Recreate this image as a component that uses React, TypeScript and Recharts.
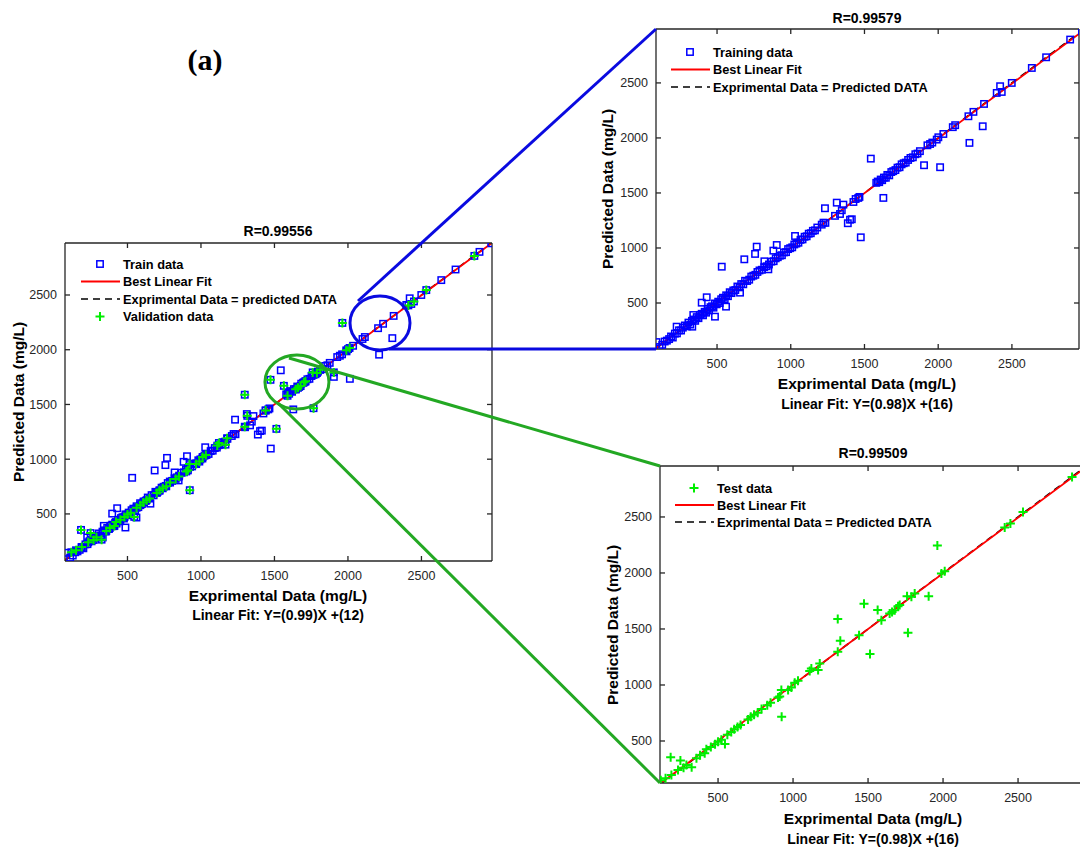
import React from "react";
import { ScatterChart, Scatter, XAxis, YAxis, ReferenceLine, ReferenceDot } from "recharts";

const FONT = "'Liberation Sans', Arial, Helvetica, sans-serif";
const AX = "#262626";
const BLUE = "#0000ff";
const GREEN = "#00ee00";
const LINK_BLUE = "#0a0ae0";
const LINK_GREEN = "#23a823";

// [experimental, predicted] in mg/L
const TRAIN: [number, number][] = [
  [110, 100], [128, 120], [145, 150], [160, 158], [175, 172], [188, 196], [200, 186], [214, 222],
  [228, 224], [242, 252], [256, 250], [268, 276], [282, 296], [296, 288], [306, 322], [318, 304],
  [330, 338], [342, 350], [352, 338], [362, 372], [374, 362], [385, 392], [396, 402], [405, 388],
  [416, 420], [426, 412], [436, 446], [446, 432], [456, 462], [466, 470], [476, 458], [486, 496],
  [498, 488], [508, 512], [518, 500], [528, 534], [540, 548], [552, 534], [562, 570], [574, 562],
  [586, 598], [598, 590], [610, 614], [624, 618], [638, 650], [652, 642], [664, 672], [678, 670],
  [690, 702], [704, 700], [718, 712], [732, 740], [746, 748], [760, 756], [774, 782], [788, 796],
  [804, 802], [820, 826], [836, 834], [852, 850], [868, 876], [884, 880], [898, 906], [912, 916],
  [926, 930], [940, 934], [954, 960], [968, 962], [982, 990], [996, 998], [1010, 1006], [1024, 1032],
  [1038, 1040], [1052, 1048], [1066, 1074], [1080, 1078], [1094, 1102], [1108, 1106], [1122, 1130],
  [1136, 1134], [1150, 1156], [1164, 1160], [1180, 1186], [1210, 1212], [1222, 1230], [1235, 1228],
  [1300, 1292], [1334, 1309], [1346, 1343], [1357, 1394], [1425, 1418], [1440, 1445], [1458, 1455],
  [1466, 1464], [1580, 1592], [1590, 1604], [1600, 1598], [1610, 1622], [1620, 1616], [1632, 1640],
  [1645, 1638], [1655, 1664], [1668, 1660], [1682, 1690], [1695, 1698], [1710, 1708], [1724, 1730],
  [1738, 1734], [1752, 1760], [1766, 1770], [1780, 1776], [1796, 1800], [1812, 1818], [1828, 1824],
  [1845, 1852], [1860, 1858], [1876, 1880], [1927, 1933], [1945, 1945], [1960, 1958], [1990, 1985],
  [2001, 2006], [2035, 2036], [2099, 2098], [2115, 2116], [2205, 2197], [2239, 2237], [2311, 2309],
  [2397, 2409], [2420, 2470], [2431, 2418], [2499, 2500], [2635, 2636], [2732, 2733], [2895, 2894],
  [2975, 2972],
  // off the line
  [89, 145], [226, 285], [332, 285], [339, 391], [396, 503], [430, 552], [486, 376], [561, 467],
  [532, 830], [656, 594], [685, 897], [758, 946], [769, 1012], [821, 879], [848, 806], [882, 976],
  [905, 1027], [1029, 1109], [1232, 1361], [1312, 1412], [1387, 1225], [1402, 1257], [1414, 1261],
  [1475, 1097], [1543, 1812], [1628, 1455], [1904, 1752], [2013, 1734], [2212, 1955], [2302, 2106],
];

const TEST: [number, number][] = [
  [118, 150], [150, 168], [184, 354], [189, 197], [233, 241], [249, 325], [270, 262], [289, 286],
  [324, 265], [356, 345], [380, 372], [411, 390], [422, 426], [452, 446], [480, 472], [500, 494],
  [522, 510], [546, 473], [562, 556], [588, 580], [608, 604], [630, 626], [650, 642], [700, 692],
  [718, 716], [740, 734], [764, 752], [790, 786], [828, 820], [850, 842], [900, 888], [911, 898],
  [922, 955], [924, 717], [967, 955], [989, 978], [1011, 1020], [1033, 1038], [1111, 1124],
  [1122, 1148], [1167, 1133], [1178, 1192], [1298, 1589], [1298, 1297], [1315, 1396], [1440, 1445],
  [1473, 1725], [1513, 1277], [1564, 1670], [1589, 1579], [1644, 1638], [1660, 1652], [1678, 1668],
  [1700, 1702], [1711, 1713], [1760, 1793], [1766, 1466], [1789, 1787], [1811, 1817], [1904, 1793],
  [1962, 2245], [1989, 1995], [2011, 2016], [2411, 2405], [2449, 2441], [2533, 2545], [2860, 2857],
];

const TICKS = [500, 1000, 1500, 2000, 2500];

// fitted lines as drawn (they sit almost on Y = X in the figure)
const FIT_ALL = { slope: 0.997, intercept: 5 };
const FIT_TRAIN = { slope: 0.995, intercept: 6 };
const FIT_TEST = { slope: 0.995, intercept: 6 };

const toPts = (a: [number, number][]) => a.map(([x, y]) => ({ x, y }));

type Layout = { left: number; top: number; w: number; h: number; xd: [number, number]; yd: [number, number] };

const MAIN: Layout = { left: 65, top: 243, w: 427, h: 318, xd: [75, 2980], yd: [70, 2975] };
const TRAIN_PANEL: Layout = { left: 656, top: 29, w: 423, h: 320, xd: [86, 2955], yd: [82, 2990] };
const TEST_PANEL: Layout = { left: 660, top: 466, w: 426, h: 317, xd: [113, 2953], yd: [125, 2955] };

const Y_W = 50;
const X_H = 40;
const PAD = 4;

function Square(props: any) {
  const { cx, cy } = props;
  if (cx == null || cy == null) return null;
  return <rect x={cx - 3.2} y={cy - 3.2} width={6.4} height={6.4} fill="none" stroke={BLUE} strokeWidth={1.5} />;
}

function Plus(props: any) {
  const { cx, cy } = props;
  if (cx == null || cy == null) return null;
  return (
    <path
      d={`M${cx - 4.5},${cy}H${cx + 4.5}M${cx},${cy - 4.5}V${cy + 4.5}`}
      stroke={GREEN}
      strokeWidth={2}
      fill="none"
    />
  );
}

function Panel({
  layout,
  squares,
  pluses,
  fit,
  children,
}: {
  layout: Layout;
  squares?: { x: number; y: number }[];
  pluses?: { x: number; y: number }[];
  fit: { slope: number; intercept: number };
  children?: React.ReactNode;
}) {
  const { left, top, w, h, xd, yd } = layout;
  const tickStyle = { fill: AX, fontSize: 12.5, fontFamily: FONT };
  const lo = Math.min(xd[0], yd[0]);
  const hi = Math.max(xd[1], yd[1]);
  return (
    <div style={{ position: "absolute", left: left - Y_W, top: top - PAD }}>
      <ScatterChart
        width={Y_W + w + PAD}
        height={PAD + h + X_H}
        margin={{ top: PAD, right: PAD, bottom: 0, left: 0 }}
      >
        <XAxis
          xAxisId="b"
          type="number"
          dataKey="x"
          domain={xd}
          ticks={TICKS}
          allowDataOverflow
          height={X_H}
          stroke={AX}
          strokeWidth={1.3}
          tickSize={-5}
          tickMargin={15}
          tick={tickStyle}
        />
        <XAxis
          xAxisId="t"
          type="number"
          dataKey="x"
          orientation="top"
          mirror
          domain={xd}
          ticks={TICKS}
          allowDataOverflow
          stroke={AX}
          strokeWidth={1.3}
          tickSize={5}
          tickFormatter={() => ""}
        />
        <YAxis
          yAxisId="l"
          type="number"
          dataKey="y"
          domain={yd}
          ticks={TICKS}
          allowDataOverflow
          width={Y_W}
          stroke={AX}
          strokeWidth={1.3}
          tickSize={-5}
          tickMargin={13}
          tick={tickStyle}
        />
        <YAxis
          yAxisId="r"
          type="number"
          dataKey="y"
          orientation="right"
          mirror
          domain={yd}
          ticks={TICKS}
          allowDataOverflow
          stroke={AX}
          strokeWidth={1.3}
          tickSize={5}
          tickFormatter={() => ""}
        />
        {squares && (
          <Scatter xAxisId="b" yAxisId="l" data={squares} shape={Square} isAnimationActive={false} />
        )}
        <ReferenceLine
          xAxisId="b"
          yAxisId="l"
          ifOverflow="hidden"
          segment={[
            { x: lo, y: lo },
            { x: hi + 200, y: hi + 200 },
          ]}
          stroke="#000000"
          strokeWidth={1.6}
          strokeDasharray="7 5"
        />
        <ReferenceLine
          xAxisId="b"
          yAxisId="l"
          ifOverflow="hidden"
          segment={[
            { x: xd[0], y: fit.slope * xd[0] + fit.intercept },
            { x: xd[1] + 200, y: fit.slope * (xd[1] + 200) + fit.intercept },
          ]}
          stroke="#ff0000"
          strokeWidth={1.8}
        />
        {pluses && (
          <Scatter xAxisId="b" yAxisId="l" data={pluses} shape={Plus} isAnimationActive={false} />
        )}
        {children}
      </ScatterChart>
    </div>
  );
}

type LegendItem = { kind: "square" | "plus" | "line" | "dash"; label: string };

const LEGEND_MAIN: LegendItem[] = [
  { kind: "square", label: "Train data" },
  { kind: "line", label: "Best Linear Fit" },
  { kind: "dash", label: "Exprimental Data = predicted DATA" },
  { kind: "plus", label: "Validation data" },
];
const LEGEND_TRAIN: LegendItem[] = [
  { kind: "square", label: "Training data" },
  { kind: "line", label: "Best Linear Fit" },
  { kind: "dash", label: "Exprimental Data = Predicted DATA" },
];
const LEGEND_TEST: LegendItem[] = [
  { kind: "plus", label: "Test data" },
  { kind: "line", label: "Best Linear Fit" },
  { kind: "dash", label: "Exprimental Data = Predicted DATA" },
];

function Legend({ x, y, step, items }: { x: number; y: number; step: number; items: LegendItem[] }) {
  return (
    <g>
      {items.map((it, i) => {
        const cy = y + i * step;
        const mx = x - 23;
        let mark: React.ReactNode = null;
        if (it.kind === "square")
          mark = <rect x={mx - 3.2} y={cy - 3.2} width={6.4} height={6.4} fill="none" stroke={BLUE} strokeWidth={1.5} />;
        else if (it.kind === "plus")
          mark = (
            <path d={`M${mx - 4.5},${cy}H${mx + 4.5}M${mx},${cy - 4.5}V${cy + 4.5}`} stroke={GREEN} strokeWidth={2} />
          );
        else if (it.kind === "line")
          mark = <line x1={x - 42} x2={x - 3} y1={cy} y2={cy} stroke="#ff0000" strokeWidth={2} />;
        else
          mark = (
            <line x1={x - 42} x2={x - 3} y1={cy} y2={cy} stroke="#000" strokeWidth={1.4} strokeDasharray="7 5" />
          );
        return (
          <g key={i}>
            {mark}
            <text x={x} y={cy} dominantBaseline="central" fontSize={12.8} fontWeight="bold" fill="#000" fontFamily={FONT}>
              {it.label}
            </text>
          </g>
        );
      })}
    </g>
  );
}

function Txt({ x, y, size, children, rotate, family = FONT }: any) {
  return (
    <div
      style={{
        position: "absolute",
        left: x,
        top: y,
        transform: `translate(-50%, -50%)${rotate ? " rotate(-90deg)" : ""}`,
        whiteSpace: "nowrap",
        fontSize: size,
        fontWeight: "bold",
        fontFamily: family,
        color: "#000",
        lineHeight: 1,
      }}
    >
      {children}
    </div>
  );
}

function Ellipse(color: string, rx: number, ry: number) {
  return (props: any) => (
    <ellipse cx={props.cx} cy={props.cy} rx={rx} ry={ry} fill="none" stroke={color} strokeWidth={3} />
  );
}

export default function App() {
  const all = toPts([...TRAIN, ...TEST]);
  const train = toPts(TRAIN);
  const test = toPts(TEST);
  return (
    <div
      style={{
        position: "absolute",
        left: 0,
        top: 0,
        width: 1080,
        height: 848,
        overflow: "hidden",
        background: "#fff",
      }}
    >
      <Panel layout={MAIN} squares={all} pluses={test} fit={FIT_ALL}>
        <ReferenceDot xAxisId="b" yAxisId="l" x={2218} y={2244} shape={Ellipse(LINK_BLUE, 30, 27)} />
        <ReferenceDot xAxisId="b" yAxisId="l" x={1653} y={1705} shape={Ellipse(LINK_GREEN, 32, 27)} />
      </Panel>
      <Panel layout={TRAIN_PANEL} squares={train} fit={FIT_TRAIN} />
      <Panel layout={TEST_PANEL} pluses={test} fit={FIT_TEST} />

      <Txt x={205} y={60} size={30} family="'Liberation Serif', 'Times New Roman', serif">(a)</Txt>

      <Txt x={278} y={231} size={14}>R=0.99556</Txt>
      <Txt x={278} y={596} size={15.5}>Exprimental Data (mg/L)</Txt>
      <Txt x={278} y={615} size={14}>Linear Fit: Y=(0.99)X +(12)</Txt>
      <Txt x={19} y={402} size={15.5} rotate>Predicted Data (mg/L)</Txt>

      <Txt x={867} y={18} size={14}>R=0.99579</Txt>
      <Txt x={867} y={384} size={15.5}>Exprimental Data (mg/L)</Txt>
      <Txt x={867} y={404} size={14}>Linear Fit: Y=(0.98)X +(16)</Txt>
      <Txt x={608} y={189} size={15.5} rotate>Predicted Data (mg/L)</Txt>

      <Txt x={873} y={453} size={14}>R=0.99509</Txt>
      <Txt x={873} y={819} size={15.5}>Exprimental Data (mg/L)</Txt>
      <Txt x={873} y={839} size={14}>Linear Fit: Y=(0.98)X +(16)</Txt>
      <Txt x={613} y={625} size={15.5} rotate>Predicted Data (mg/L)</Txt>

      <svg
        width={1080}
        height={848}
        style={{ position: "absolute", left: 0, top: 0, pointerEvents: "none" }}
      >
        <Legend x={123} y={264} step={17.5} items={LEGEND_MAIN} />
        <Legend x={713} y={52} step={17.5} items={LEGEND_TRAIN} />
        <Legend x={717} y={488} step={17} items={LEGEND_TEST} />

        <line x1={358} y1={301} x2={656} y2={29} stroke={LINK_BLUE} strokeWidth={3} />
        <line x1={389} y1={349} x2={656} y2={349} stroke={LINK_BLUE} strokeWidth={3} />
        <line x1={289} y1={358} x2={660} y2={466} stroke={LINK_GREEN} strokeWidth={3} />
        <line x1={278} y1={403} x2={660} y2={783} stroke={LINK_GREEN} strokeWidth={3} />
      </svg>
    </div>
  );
}
